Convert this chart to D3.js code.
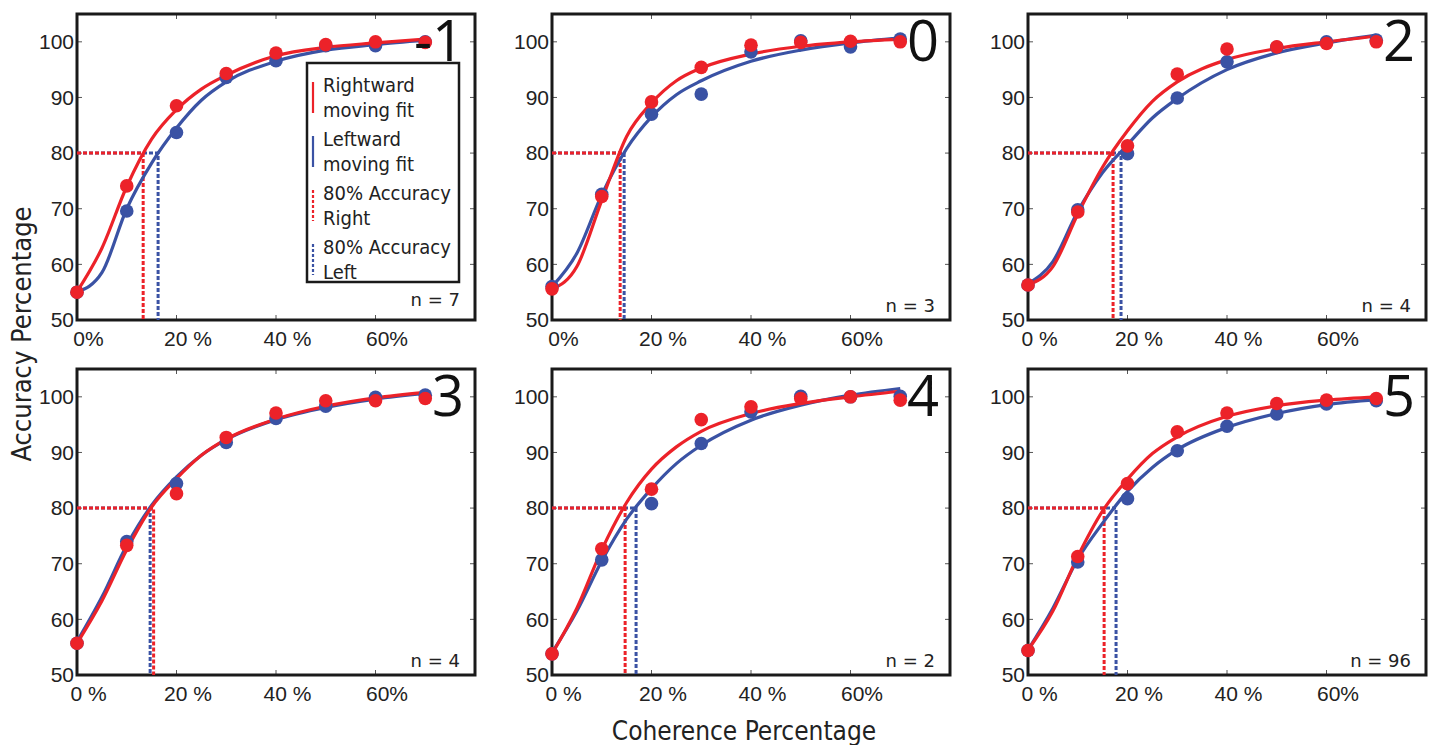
<!DOCTYPE html>
<html>
<head>
<meta charset="utf-8">
<script src="https://cdn.jsdelivr.net/npm/d3@7"></script>
<style>
  body { margin: 0; background: #fff; }
  svg { display: block; }
</style>
</head>
<body>
<svg id="chart" width="1434" height="745"></svg>
<script>
// coherence levels of the dots and the values of each panel
const coherence = [0, 10, 20, 30, 40, 50, 60, 70];
const panelNames = ["-1", "0", "2", "3", "4", "5"];
const nSubjects = [7, 3, 4, 4, 2, 96];

const rightAcc = [
    [55.0, 74.1, 88.5, 94.3, 98.0, 99.5, 100.0, 99.9],
    [55.6, 72.2, 89.2, 95.4, 99.4, 99.9, 100.1, 100.0],
    [56.3, 69.4, 81.3, 94.2, 98.7, 99.1, 99.7, 100.0],
    [55.7, 73.3, 82.6, 92.7, 97.1, 99.3, 99.3, 99.7],
    [53.8, 72.7, 83.4, 95.9, 98.2, 99.7, 100.0, 99.4],
    [54.4, 71.3, 84.4, 93.7, 97.1, 98.8, 99.4, 99.7]
];
const leftAcc = [
    [55.0, 69.6, 83.7, 93.6, 96.6, 99.3, 99.3, 100.0],
    [56.0, 72.6, 87.0, 90.6, 98.2, 100.2, 99.1, 100.5],
    [56.3, 69.8, 79.9, 89.9, 96.4, 99.0, 100.0, 100.3],
    [55.7, 74.0, 84.4, 91.8, 96.1, 98.3, 99.9, 100.3],
    [53.8, 70.7, 80.8, 91.6, 97.3, 100.1, 100.0, 100.1],
    [54.4, 70.3, 81.7, 90.3, 94.7, 96.9, 98.7, 99.3]
];

// fitted curves, sampled at these coherences
const fitX = [0, 5, 10, 15, 20, 25, 30, 40, 50, 60, 70];
const rightFit = [
    [55.1, 62.9, 74.0, 82.5, 87.8, 91.5, 94.0, 97.5, 99.0, 99.8, 100.5],
    [55.5, 59.6, 71.5, 83.0, 89.0, 93.0, 95.3, 97.8, 99.2, 100.0, 100.5],
    [56.3, 59.6, 69.0, 77.5, 84.0, 89.3, 92.8, 96.8, 98.8, 100.0, 101.0],
    [55.7, 63.3, 72.5, 80.2, 85.3, 89.5, 92.4, 96.0, 98.3, 99.8, 100.8],
    [53.8, 62.0, 72.5, 81.0, 87.0, 91.0, 93.8, 97.0, 98.8, 100.0, 101.0],
    [54.5, 61.5, 71.3, 79.5, 85.2, 89.8, 92.8, 96.5, 98.4, 99.4, 100.0]
];
const leftFit = [
    [55.0, 58.5, 70.0, 78.2, 84.5, 89.5, 92.8, 96.5, 98.5, 99.5, 100.3],
    [56.0, 62.0, 72.5, 80.8, 86.5, 90.5, 93.0, 96.5, 98.5, 99.8, 100.7],
    [56.5, 60.5, 69.5, 76.5, 81.5, 86.3, 89.8, 95.0, 98.0, 99.8, 101.2],
    [56.0, 64.0, 73.3, 80.5, 85.6, 89.5, 92.3, 95.9, 98.1, 99.6, 100.6],
    [54.0, 61.5, 70.5, 78.0, 83.5, 88.0, 91.3, 95.8, 98.5, 100.3, 101.5],
    [54.5, 62.0, 70.8, 77.3, 83.0, 87.3, 90.5, 94.5, 97.0, 98.6, 99.5]
];

// coherence at 80% accuracy
const rightThr = [13.3, 13.7, 17.1, 15.4, 14.7, 15.3];
const leftThr = [16.3, 14.5, 18.7, 14.7, 16.9, 17.7];

const yTicks = [50, 60, 70, 80, 90, 100];
const xTicks = [0, 20, 40, 60];
const xTickLabels = [
    ["0%", "20 %", "40 %", "60%"],
    ["0%", "20 %", "40 %", "60%"],
    ["0 %", "20 %", "40 %", "60%"],
    ["0 %", "20 %", "40 %", "60%"],
    ["0 %", "20 %", "40 %", "60%"],
    ["0 %", "20 %", "40 %", "60%"]
];

const red = "#ec2229";
const blue = "#3a52a4";

const colLeft = [77, 552, 1028];
const rowTop = [14, 369];
const pw = 398, ph = 306;

const svg = d3.select("#chart");
const tickFont = "'Liberation Sans', Arial, sans-serif";
const textFont = "'DejaVu Sans Condensed', 'DejaVu Sans', sans-serif";

panelNames.forEach((name, i) => {
    const left = colLeft[i % 3];
    const top = rowTop[Math.floor(i / 3)];

    const x = d3.scaleLinear().domain([0, 80]).range([left, left + pw]);
    const y = d3.scaleLinear().domain([50, 105]).range([top + ph, top]);

    const g = svg.append("g");

    // y tick labels
    g.append("g")
        .attr("transform", `translate(${left - 3},0)`)
        .call(d3.axisLeft(y).tickValues(yTicks).tickSize(0).tickPadding(0))
        .call(a => a.select(".domain").remove())
        .call(a => a.selectAll("text")
            .attr("font-family", tickFont)
            .attr("font-size", 21)
            .attr("fill", "#222"));

    // x tick labels
    g.append("g")
        .attr("transform", `translate(0,${top + ph})`)
        .call(d3.axisBottom(x).tickValues(xTicks).tickSize(0).tickPadding(0)
            .tickFormat((d, k) => xTickLabels[i][k]))
        .call(a => a.select(".domain").remove())
        .call(a => a.selectAll("text")
            .attr("y", 0)
            .attr("dy", 26)
            .attr("dx", 11)
            .attr("font-family", tickFont)
            .attr("font-size", 21)
            .attr("fill", "#222"));

    // inward ticks on all four sides
    const tk = g.append("g").attr("stroke", "#555").attr("stroke-width", 1);
    yTicks.forEach(v => {
        tk.append("line").attr("x1", left).attr("x2", left + 5).attr("y1", y(v)).attr("y2", y(v));
        tk.append("line").attr("x1", left + pw - 5).attr("x2", left + pw).attr("y1", y(v)).attr("y2", y(v));
    });
    xTicks.forEach(v => {
        tk.append("line").attr("x1", x(v)).attr("x2", x(v)).attr("y1", top).attr("y2", top + 5);
        tk.append("line").attr("x1", x(v)).attr("x2", x(v)).attr("y1", top + ph - 5).attr("y2", top + ph);
    });

    // frame
    g.append("rect")
        .attr("x", left).attr("y", top)
        .attr("width", pw).attr("height", ph)
        .attr("fill", "none")
        .attr("stroke", "#1a1a1a")
        .attr("stroke-width", 3);

    // 80% threshold lines
    [[leftThr[i], blue], [rightThr[i], red]].forEach(([t, c]) => {
        g.append("path")
            .attr("d", `M${x(0)},${y(80)}H${x(t)}V${y(50)}`)
            .attr("fill", "none")
            .attr("stroke", c)
            .attr("stroke-width", 3)
            .attr("stroke-dasharray", "4,2");
    });

    // fitted curves
    const line = d3.line()
        .x((d, k) => x(fitX[k]))
        .y(d => y(d))
        .curve(d3.curveMonotoneX);
    [[leftFit[i], blue], [rightFit[i], red]].forEach(([f, c]) => {
        g.append("path")
            .attr("d", line(f))
            .attr("fill", "none")
            .attr("stroke", c)
            .attr("stroke-width", 3.2);
    });

    // data points
    [[leftAcc[i], blue], [rightAcc[i], red]].forEach(([vals, c]) => {
        g.append("g").selectAll("circle")
            .data(vals)
            .join("circle")
            .attr("cx", (d, k) => x(coherence[k]))
            .attr("cy", d => y(d))
            .attr("r", 6.8)
            .attr("fill", c);
    });

    // panel number
    g.append("text")
        .attr("x", left + pw - 11)
        .attr("y", top + 47)
        .attr("text-anchor", "end")
        .attr("font-family", "'Open Sans', 'Noto Sans', sans-serif")
        .attr("font-size", 56)
        .attr("fill", "#111")
        .text(name);

    // n label
    g.append("text")
        .attr("x", left + pw - 15)
        .attr("y", top + ph - (i === 0 ? 14 : 8))
        .attr("text-anchor", "end")
        .attr("font-family", "'DejaVu Sans', sans-serif")
        .attr("font-size", 18)
        .attr("fill", "#222")
        .text(`n = ${nSubjects[i]}`);
});

// legend in the first panel
const legendItems = [
    { lines: ["Rightward", "moving fit"], color: red, dash: null },
    { lines: ["Leftward", "moving fit"], color: blue, dash: null },
    { lines: ["80% Accuracy", "Right"], color: red, dash: "3,2" },
    { lines: ["80% Accuracy", "Left"], color: blue, dash: "3,2" }
];
const lg = svg.append("g").attr("transform", "translate(307,63)");
lg.append("rect")
    .attr("width", 152).attr("height", 219)
    .attr("fill", "#fff")
    .attr("stroke", "#1a1a1a")
    .attr("stroke-width", 2.5);
legendItems.forEach((it, k) => {
    const y0 = 10 + k * 54;
    lg.append("line")
        .attr("x1", 6).attr("x2", 6)
        .attr("y1", y0 + 9).attr("y2", y0 + 40)
        .attr("stroke", it.color)
        .attr("stroke-width", 2.2)
        .attr("stroke-dasharray", it.dash);
    it.lines.forEach((t, j) => {
        lg.append("text")
            .attr("x", 16)
            .attr("y", y0 + 19 + j * 25)
            .attr("font-family", textFont)
            .attr("font-size", 20)
            .attr("fill", "#222")
            .text(t);
    });
});

// axis titles
svg.append("text")
    .attr("transform", "translate(31,334) rotate(-90)")
    .attr("text-anchor", "middle")
    .attr("font-family", textFont)
    .attr("font-size", 27)
    .attr("fill", "#222")
    .text("Accuracy Percentage");

svg.append("text")
    .attr("x", 744)
    .attr("y", 740)
    .attr("text-anchor", "middle")
    .attr("font-family", textFont)
    .attr("font-size", 26)
    .attr("fill", "#222")
    .text("Coherence Percentage");
</script>
</body>
</html>
